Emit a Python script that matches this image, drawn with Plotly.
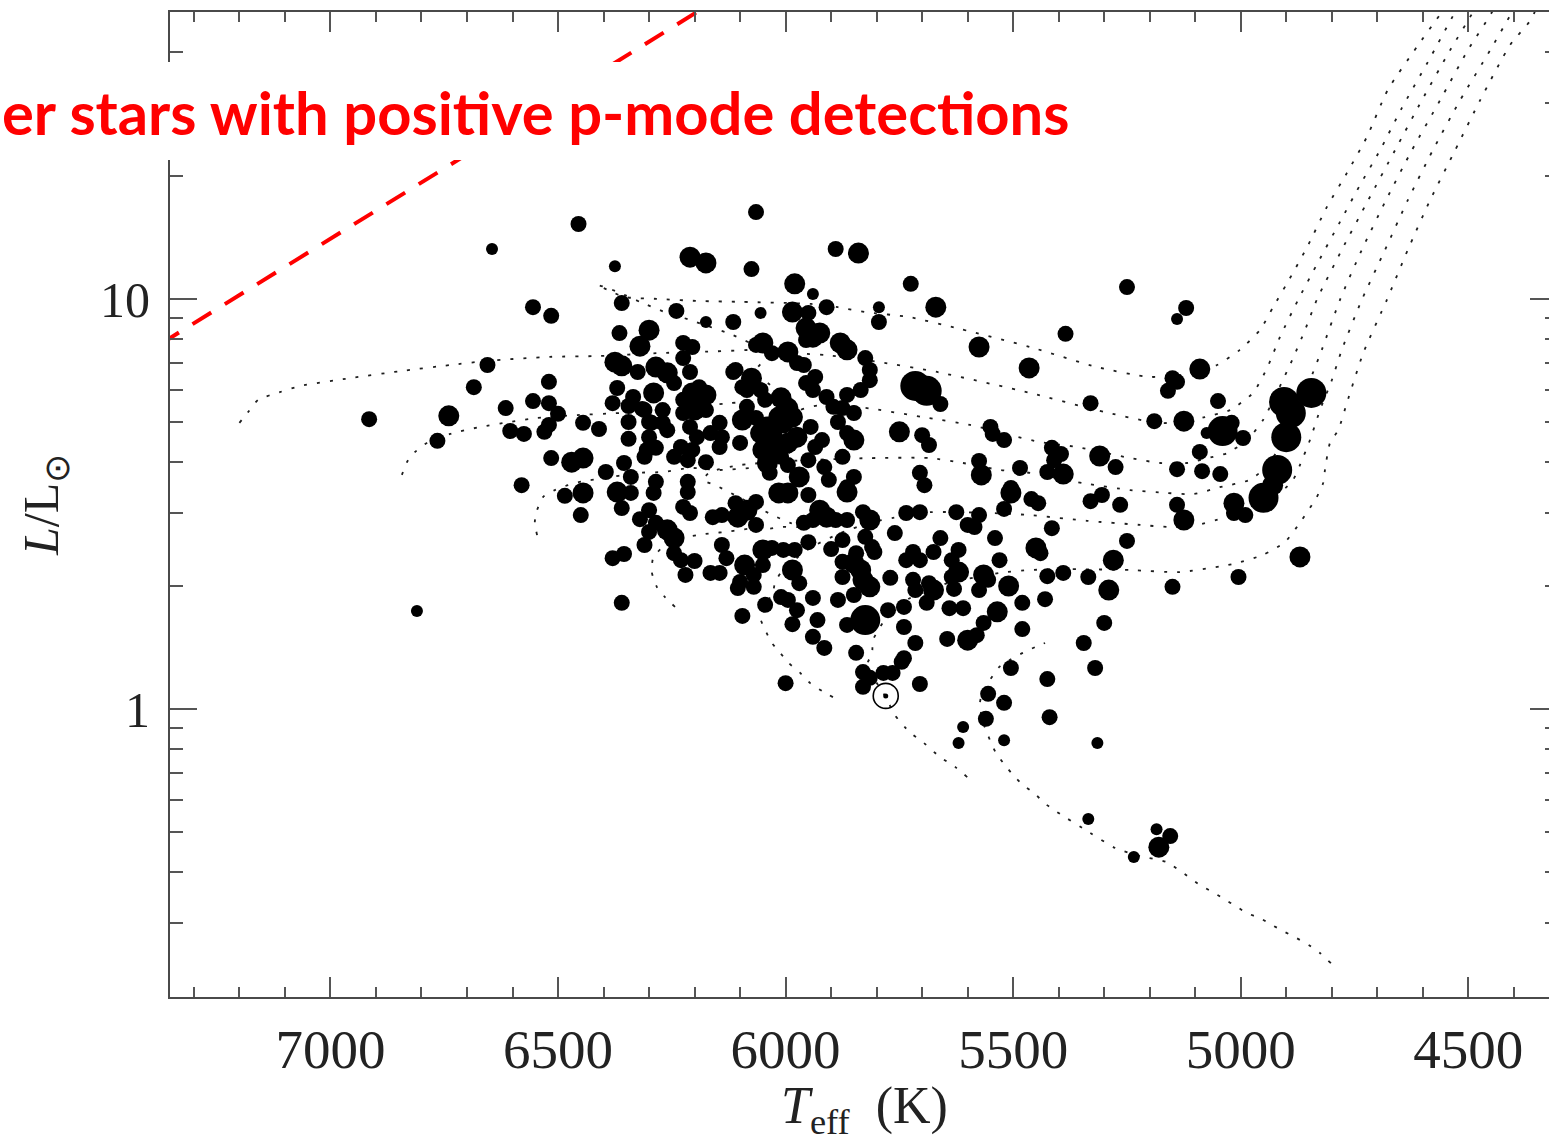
import plotly.graph_objects as go

# ------------------------------------------------------------------
# Data
# ------------------------------------------------------------------
# Stars with detected solar-like oscillations: Teff [K], log10(L/Lsun), size class (1..4)
star_teff = [
    6455, 6645, 6065, 6375, 6210, 6175, 6075, 5890, 5840, 5725,
    5980, 5940, 5795, 5670, 5910, 5985, 5950, 6055, 6115, 6175,
    5795, 5250, 5120, 5140, 5955, 5385, 6555, 6515, 6360, 6240,
    6300, 6365, 6320, 6375, 6360, 6325, 6655, 6685, 6520, 6555,
    6520, 6615, 6500, 6520, 6530, 6915, 6740, 6605, 6575, 6765,
    6445, 6410, 6370, 6380, 6335, 6345, 6315, 6345, 6345, 6300,
    6300, 6310, 6515, 6470, 6445, 6355, 6395, 6340, 6580, 6485,
    6445, 6370, 6340, 6450, 6360, 6320, 6300, 6310, 6380, 6355,
    6360, 6810, 6225, 6205, 6225, 5940, 5925, 5955, 5880, 5865,
    6050, 6065, 6030, 5995, 5975, 5960, 5825, 5815, 5815, 5835,
    5865, 5935, 5955, 5940, 5910, 5895, 5875, 5850, 5885, 5715,
    5690, 5660, 5750, 5700, 5685, 5850, 5875, 5915, 5905, 5850,
    5865, 5935, 5945, 5970, 5950, 5705, 5695, 6110, 6075, 6085,
    6055, 6045, 6010, 5995, 6015, 6040, 6055, 6030, 6005, 5985,
    5975, 5995, 6030, 6050, 6040, 6010, 6095, 6100, 5995, 6035,
    6285, 6260, 6245, 6210, 6190, 6175, 6205, 6210, 6225, 6200,
    6225, 6175, 6270, 6290, 6310, 6295, 6270, 6260, 6210, 6195,
    6205, 6230, 6245, 6215, 6175, 6165, 6145, 6140, 6145, 6305,
    6285, 6115, 6095, 6085, 6065, 5920, 5865, 6285, 6215, 5575,
    5465, 5090, 5150, 5140, 5160, 5330, 5190, 5125, 5050, 5040,
    5075, 5020, 4995, 5550, 5545, 5520, 5415, 5395, 5410, 5310,
    5275, 5575, 5570, 5485, 5425, 5390, 5140, 5090, 5085, 5045,
    5505, 4905, 4890, 4845, 4900, 4920, 6290, 6300, 6285, 6260,
    6245, 6215, 6225, 6210, 6245, 6230, 6200, 6220, 6160, 6140,
    6110, 6105, 6085, 6065, 6065, 6015, 5995, 5950, 5865, 5830,
    5815, 5925, 5910, 5940, 5960, 5890, 5865, 5875, 5735, 5705,
    5760, 5660, 5825, 5810, 5845, 5950, 5900, 6140, 6130, 6050,
    6030, 6005, 5980, 6050, 6090, 6165, 6145, 6070, 5985, 6100,
    6105, 6070, 5970, 5875, 5850, 5835, 5830, 5815, 5875, 5850,
    5805, 5770, 5720, 5735, 5705, 5675, 5720, 5715, 5685, 5675,
    5690, 5740, 5775, 6010, 5995, 6045, 5975, 5940, 5885, 6095,
    5985, 5930, 5825, 5865, 5740, 5940, 5915, 5845, 5740, 5715,
    5830, 5815, 5830, 5785, 5765, 5745, 5705, 6000, 5505, 5425,
    5320, 5555, 5520, 5560, 5610, 5620, 5520, 5420, 5315, 5335,
    5235, 5185, 5155, 5180, 5505, 5460, 5445, 5520, 5330, 5305,
    5265, 5140, 5125, 5015, 5625, 5575, 5600, 5585, 5415, 5250,
    5540, 5620, 5450, 5440, 5635, 5530, 5280, 5620, 5635, 5565,
    5555, 5425, 5390, 5335, 5575, 5630, 5510, 5290, 5150, 5640,
    5610, 5535, 5480, 5430, 5565, 5480, 5300, 5645, 5600, 5580,
    5345, 5015, 4990, 4950, 4930, 4870, 5005,
]
star_log_lum = [
    1.183, 1.122, 1.212, 1.080, 1.102, 1.088, 1.073, 1.122, 1.112, 1.037,
    1.037, 1.012, 0.980, 0.980, 0.980, 0.968, 0.966, 0.966, 0.944, 0.944,
    0.944, 1.029, 0.978, 0.951, 0.929, 0.915, 0.980, 0.959, 0.990, 0.971,
    0.924, 0.917, 0.885, 0.846, 0.837, 0.822, 0.839, 0.785, 0.798, 0.751,
    0.746, 0.734, 0.720, 0.693, 0.676, 0.707, 0.715, 0.678, 0.671, 0.654,
    0.698, 0.683, 0.783, 0.746, 0.761, 0.739, 0.732, 0.700, 0.659, 0.700,
    0.663, 0.615, 0.612, 0.602, 0.612, 0.600, 0.578, 0.566, 0.546, 0.520,
    0.527, 0.529, 0.527, 0.473, 0.490, 0.463, 0.432, 0.400, 0.368, 0.378,
    0.259, 0.239, 0.893, 0.883, 0.856, 0.907, 0.917, 0.900, 0.893, 0.876,
    0.893, 0.888, 0.868, 0.871, 0.844, 0.839, 0.856, 0.827, 0.802, 0.778,
    0.766, 0.810, 0.795, 0.778, 0.761, 0.737, 0.734, 0.722, 0.700, 0.788,
    0.776, 0.744, 0.676, 0.668, 0.644, 0.656, 0.615, 0.590, 0.559, 0.566,
    0.541, 0.639, 0.688, 0.566, 0.607, 0.576, 0.546, 0.827, 0.807, 0.778,
    0.778, 0.754, 0.759, 0.734, 0.712, 0.688, 0.673, 0.673, 0.698, 0.712,
    0.663, 0.649, 0.639, 0.632, 0.600, 0.615, 0.705, 0.649, 0.595, 0.576,
    0.834, 0.820, 0.795, 0.822, 0.785, 0.766, 0.771, 0.746, 0.754, 0.729,
    0.722, 0.729, 0.729, 0.771, 0.729, 0.698, 0.698, 0.680, 0.688, 0.663,
    0.632, 0.639, 0.615, 0.607, 0.602, 0.673, 0.698, 0.663, 0.639, 0.632,
    0.637, 0.822, 0.785, 0.737, 0.710, 0.656, 0.673, 0.554, 0.554, 0.883,
    0.832, 0.829, 0.807, 0.798, 0.776, 0.746, 0.702, 0.702, 0.751, 0.678,
    0.673, 0.698, 0.661, 0.688, 0.671, 0.656, 0.637, 0.622, 0.607, 0.617,
    0.590, 0.605, 0.571, 0.588, 0.578, 0.573, 0.585, 0.627, 0.580, 0.573,
    0.539, 0.749, 0.722, 0.771, 0.663, 0.583, 0.527, 0.485, 0.454, 0.437,
    0.417, 0.529, 0.493, 0.478, 0.380, 0.363, 0.361, 0.327, 0.468, 0.473,
    0.502, 0.468, 0.485, 0.505, 0.449, 0.527, 0.527, 0.522, 0.529, 0.480,
    0.461, 0.485, 0.468, 0.461, 0.454, 0.461, 0.461, 0.412, 0.478, 0.480,
    0.429, 0.417, 0.420, 0.395, 0.380, 0.407, 0.390, 0.400, 0.368, 0.388,
    0.393, 0.388, 0.388, 0.351, 0.351, 0.332, 0.332, 0.327, 0.339, 0.310,
    0.295, 0.298, 0.307, 0.359, 0.356, 0.339, 0.315, 0.298, 0.322, 0.278,
    0.383, 0.320, 0.383, 0.363, 0.363, 0.383, 0.315, 0.290, 0.307, 0.290,
    0.259, 0.249, 0.241, 0.273, 0.266, 0.254, 0.241, 0.271, 0.266, 0.227,
    0.207, 0.217, 0.217, 0.205, 0.200, 0.176, 0.149, 0.137, 0.124, 0.161,
    0.090, 0.076, 0.054, 0.088, 0.088, 0.115, 0.061, 0.063, 0.100, 0.073,
    0.100, 0.037, 0.015, -0.024, -0.044, -0.083, -0.076, -0.020, -0.083, -0.268,
    -0.361, -0.293, -0.310, -0.337, 0.527, 0.512, 0.502, 0.488, 0.507, 0.522,
    0.498, 0.498, 0.461, 0.502, 0.480, 0.473, 0.449, 0.444, 0.441, 0.410,
    0.417, 0.388, 0.393, 0.380, 0.363, 0.363, 0.363, 0.334, 0.322, 0.327,
    0.315, 0.324, 0.332, 0.322, 0.290, 0.293, 0.300, 0.290, 0.298, 0.246,
    0.246, 0.237, 0.259, 0.268, 0.210, 0.195, 0.210, 0.171, 0.168, 0.180,
    0.161, 0.478, 0.473, 0.515, 0.546, 0.371, 0.322,
]
star_size_class = [
    2, 1, 2, 1, 3, 3, 2, 2, 3, 2,
    3, 1, 1, 3, 2, 3, 2, 1, 2, 1,
    2, 2, 2, 1, 3, 2, 2, 2, 2, 2,
    3, 2, 3, 3, 3, 2, 2, 2, 2, 2,
    2, 2, 2, 2, 2, 2, 3, 2, 2, 2,
    2, 2, 2, 2, 2, 2, 2, 2, 2, 2,
    2, 2, 2, 3, 3, 2, 2, 2, 2, 2,
    3, 3, 2, 2, 2, 2, 2, 2, 2, 2,
    2, 1, 2, 2, 2, 3, 3, 2, 3, 3,
    3, 2, 2, 3, 2, 2, 2, 2, 2, 2,
    2, 2, 2, 2, 2, 2, 2, 2, 2, 4,
    4, 2, 3, 2, 2, 3, 2, 2, 2, 2,
    2, 2, 2, 3, 2, 2, 2, 2, 3, 2,
    2, 2, 3, 3, 3, 3, 3, 3, 3, 3,
    3, 3, 3, 3, 3, 2, 3, 2, 2, 2,
    3, 3, 2, 2, 2, 3, 3, 2, 2, 3,
    2, 2, 2, 3, 2, 2, 2, 2, 2, 2,
    2, 2, 2, 2, 2, 2, 2, 2, 2, 2,
    2, 2, 2, 2, 2, 2, 2, 2, 2, 3,
    3, 3, 2, 2, 2, 2, 2, 3, 2, 4,
    1, 2, 2, 2, 2, 2, 2, 2, 2, 3,
    2, 2, 3, 2, 2, 3, 2, 2, 2, 2,
    2, 4, 4, 4, 4, 4, 2, 2, 2, 3,
    3, 2, 2, 2, 2, 2, 2, 2, 2, 2,
    2, 3, 3, 2, 2, 3, 3, 2, 3, 2,
    3, 3, 3, 2, 2, 2, 2, 2, 2, 2,
    2, 2, 2, 2, 2, 2, 2, 2, 2, 3,
    2, 2, 2, 2, 3, 2, 2, 2, 3, 2,
    2, 2, 2, 2, 3, 3, 3, 3, 2, 2,
    2, 2, 2, 2, 2, 2, 2, 2, 2, 3,
    2, 2, 2, 2, 2, 2, 2, 2, 2, 2,
    2, 2, 4, 2, 2, 2, 2, 2, 2, 2,
    2, 2, 2, 2, 2, 2, 2, 2, 2, 2,
    2, 2, 2, 2, 1, 1, 1, 2, 1, 1,
    1, 1, 2, 3, 3, 2, 2, 2, 2, 2,
    2, 2, 3, 3, 2, 2, 2, 2, 2, 2,
    2, 2, 3, 2, 2, 2, 3, 3, 2, 3,
    2, 2, 2, 2, 2, 2, 3, 3, 2, 2,
    2, 3, 2, 2, 2, 2, 2, 2, 3, 2,
    2, 2, 2, 4, 3, 3, 2,
]

# The Sun
sun_teff = [5780]
sun_log_lum = [0.032]

# Dotted evolutionary tracks (Teff [K], log10 L/Lsun)
track_a_teff = [7200, 7181, 7159, 7111, 7066, 6957, 6847, 6737, 6656, 6518, 6408, 6283, 6188, 6078, 6045,
                6078, 6122, 6166, 6210, 6265, 6320, 6364, 6397, 6414, 6386, 6355, 6276, 6188, 6096, 5944,
                5885, 5824, 5729, 5617, 5463, 5316, 5199, 5112, 5052, 5002, 4958, 4929, 4898, 4854, 4811,
                4767, 4723, 4677, 4613, 4558, 4529]
track_a_log_lum = [0.698, 0.724, 0.754, 0.773, 0.788, 0.807, 0.824, 0.839, 0.849, 0.859, 0.861, 0.868, 0.871,
                   0.876, 0.880, 0.893, 0.915, 0.932, 0.949, 0.968, 0.993, 1.015, 1.029, 1.034, 1.020, 1.005,
                   1.000, 0.995, 0.993, 0.988, 0.980, 0.968, 0.956, 0.927, 0.883, 0.834, 0.810, 0.817, 0.839,
                   0.876, 0.924, 0.980, 1.039, 1.127, 1.224, 1.307, 1.395, 1.510, 1.615, 1.700, 1.741]
track_b_teff = [6843, 6832, 6814, 6788, 6737, 6671, 6606, 6546, 6458, 6364, 6232, 6122, 6012, 6034, 6067,
                6045, 5968, 5909, 5793, 5667, 5463, 5316, 5184, 5123, 5079, 5024, 4973, 4942, 4914, 4874,
                4830, 4782, 4738, 4694, 4646, 4589, 4529, 4507]
track_b_log_lum = [0.571, 0.602, 0.627, 0.649, 0.671, 0.688, 0.700, 0.710, 0.717, 0.722, 0.734, 0.746, 0.759,
                   0.790, 0.822, 0.851, 0.866, 0.863, 0.846, 0.822, 0.771, 0.729, 0.698, 0.700, 0.712, 0.729,
                   0.771, 0.832, 0.907, 0.998, 1.090, 1.188, 1.278, 1.363, 1.466, 1.578, 1.700, 1.741]
track_c_teff = [6546, 6551, 6546, 6533, 6507, 6478, 6445, 6408, 6327, 6269, 6210, 6144, 6078, 6001, 5990,
                6001, 5968, 5925, 5874, 5808, 5687, 5595, 5507, 5441, 5360, 5243, 5177, 5118, 5061, 5030,
                4986, 4951, 4918, 4887, 4859, 4833, 4778, 4720, 4661, 4602, 4540, 4490, 4474]
track_c_log_lum = [0.424, 0.456, 0.485, 0.517, 0.534, 0.546, 0.556, 0.561, 0.576, 0.578, 0.588, 0.583, 0.588,
                   0.595, 0.644, 0.693, 0.729, 0.741, 0.741, 0.732, 0.710, 0.693, 0.668, 0.651, 0.639, 0.612,
                   0.600, 0.600, 0.615, 0.624, 0.656, 0.705, 0.778, 0.851, 0.924, 0.998, 1.120, 1.241, 1.363,
                   1.485, 1.607, 1.700, 1.741]
track_d_teff = [6243, 6265, 6283, 6294, 6291, 6265, 6228, 6195, 6162, 6129, 6100, 6067, 6041, 6008, 5968,
                5990, 6019, 6050, 6100, 6151, 6181, 6166, 6100, 5990, 5880, 5815, 5683, 5610, 5529, 5463,
                5347, 5243, 5162, 5105, 5046, 4980, 4940, 4907, 4877, 4848, 4822, 4782, 4734, 4681, 4624,
                4562, 4501, 4448, 4431]
track_d_log_lum = [0.249, 0.273, 0.298, 0.334, 0.368, 0.400, 0.417, 0.424, 0.429, 0.432, 0.437, 0.441, 0.439,
                   0.444, 0.444, 0.454, 0.468, 0.485, 0.515, 0.544, 0.559, 0.578, 0.595, 0.605, 0.610, 0.612,
                   0.612, 0.600, 0.583, 0.576, 0.551, 0.534, 0.527, 0.524, 0.541, 0.559, 0.595, 0.656, 0.729,
                   0.802, 0.876, 0.998, 1.120, 1.241, 1.363, 1.485, 1.607, 1.700, 1.741]
track_e_teff = [5896, 5920, 5946, 5968, 5993, 6012, 6030, 6045, 6056, 6045, 6028, 6023, 6006, 5986, 5946,
                5880, 5815, 5764, 5683, 5551, 5463, 5338, 5221, 5156, 5096, 5039, 5002, 4951, 4907, 4885,
                4870, 4848, 4826, 4800, 4778, 4734, 4683, 4633, 4578, 4518, 4452, 4404, 4386]
track_e_log_lum = [0.029, 0.044, 0.063, 0.088, 0.112, 0.137, 0.161, 0.193, 0.224, 0.254, 0.283, 0.310, 0.339,
                   0.359, 0.393, 0.429, 0.454, 0.466, 0.480, 0.478, 0.473, 0.459, 0.449, 0.444, 0.449, 0.466,
                   0.480, 0.510, 0.534, 0.559, 0.595, 0.656, 0.729, 0.802, 0.876, 0.998, 1.120, 1.241, 1.363,
                   1.485, 1.607, 1.700, 1.741]
track_f_teff = [5601, 5628, 5661, 5696, 5720, 5738, 5760, 5780, 5804, 5821, 5810, 5808, 5782, 5731, 5683,
                5645, 5588, 5529, 5463, 5375, 5243, 5134, 5039, 5008, 4951, 4903, 4866, 4833, 4819, 4815,
                4804, 4786, 4767, 4731, 4679, 4633, 4584, 4529, 4474, 4408, 4360, 4343]
track_f_log_lum = [-0.166, -0.141, -0.117, -0.083, -0.063, -0.044, -0.015, 0.029, 0.071, 0.107, 0.137, 0.168,
                   0.217, 0.268, 0.290, 0.307, 0.320, 0.332, 0.339, 0.341, 0.339, 0.334, 0.349, 0.356, 0.376,
                   0.407, 0.461, 0.517, 0.551, 0.583, 0.649, 0.680, 0.746, 0.868, 0.998, 1.120, 1.241, 1.363,
                   1.485, 1.620, 1.685, 1.741]
track_g_teff = [4802, 4826, 4850, 4877, 4903, 4931, 4958, 4986, 5008, 5037, 5063, 5090, 5114, 5164, 5221,
                5276, 5331, 5404, 5432, 5454, 5479, 5500, 5518, 5538, 5551, 5560, 5568, 5573, 5568, 5551,
                5531, 5507, 5479, 5452, 5430]
track_g_log_lum = [-0.620, -0.595, -0.576, -0.559, -0.544, -0.527, -0.510, -0.498, -0.483, -0.463, -0.446,
                   -0.429, -0.410, -0.373, -0.359, -0.339, -0.302, -0.251, -0.229, -0.205, -0.185, -0.161,
                   -0.137, -0.107, -0.076, -0.051, -0.027, 0.015, 0.039, 0.071, 0.102, 0.120, 0.137, 0.151,
                   0.161]

# Red dashed boundary line
red_line_teff = [7374, 6116]
red_line_log_lum = [0.890, 1.754]

# Axis ticks
x_tick_vals = [7000, 6500, 6000, 5500, 5000, 4500]
y_tick_vals = [1, 10]
y_tick_text = ["1", "10"]
y_minor_vals = [0.3, 0.4, 0.5, 0.6, 0.7, 0.8, 0.9, 2, 3, 4, 5, 6, 7, 8, 9, 20, 30, 40]

banner_text = "er stars with positive p-mode detections"
x_title = "<i>T</i><sub>eff</sub>&nbsp;&nbsp;(K)"
y_title = "<i>L</i>/L<sub>⊙</sub>"

# ------------------------------------------------------------------
# Styling
# ------------------------------------------------------------------
SIZE_PX = {1: 12, 2: 16, 3: 21, 4: 30}
SERIF = "Liberation Serif, Times New Roman, serif"
X_RANGE = [7352.5, 4322.8]
Y_RANGE = [-0.7024, 1.7]


def lum(log_values):
    return [10 ** v for v in log_values]


fig = go.Figure()

tracks = [
    (track_a_teff, track_a_log_lum), (track_b_teff, track_b_log_lum),
    (track_c_teff, track_c_log_lum), (track_d_teff, track_d_log_lum),
    (track_e_teff, track_e_log_lum), (track_f_teff, track_f_log_lum),
    (track_g_teff, track_g_log_lum),
]
for t, l in tracks:
    fig.add_trace(go.Scatter(
        x=t, y=lum(l), mode="lines",
        line=dict(color="#1e1e1e", width=1.8, dash="3px,10px", shape="spline", smoothing=0.6),
        hoverinfo="skip", showlegend=False))

fig.add_trace(go.Scatter(
    x=red_line_teff, y=lum(red_line_log_lum), mode="lines",
    line=dict(color="#ff0000", width=4, dash="22px,16px"),
    hoverinfo="skip", showlegend=False))

fig.add_trace(go.Scatter(
    x=star_teff, y=lum(star_log_lum), mode="markers",
    marker=dict(color="black", opacity=1, size=[SIZE_PX[c] for c in star_size_class], line=dict(width=0)),
    showlegend=False))

fig.add_trace(go.Scatter(
    x=sun_teff, y=lum(sun_log_lum), mode="markers",
    marker=dict(symbol="circle-open", color="black", opacity=1, size=25, line=dict(width=1.6)),
    showlegend=False))
fig.add_trace(go.Scatter(
    x=sun_teff, y=lum(sun_log_lum), mode="markers",
    marker=dict(symbol="circle", color="black", opacity=1, size=5),
    showlegend=False))

# helper (empty) trace so the right-hand tick axis is drawn
fig.add_trace(go.Scatter(x=[None], y=[None], yaxis="y2", mode="markers",
                         hoverinfo="skip", showlegend=False))

axis_line = "#4a4a4a"
tick_col = "#555555"

fig.update_layout(
    width=1549, height=1142,
    margin=dict(l=170, r=0, t=12, b=145),
    paper_bgcolor="white", plot_bgcolor="white",
    showlegend=False,
    xaxis=dict(
        range=X_RANGE, showgrid=False, zeroline=False,
        showline=True, linecolor=axis_line, linewidth=2, mirror="ticks",
        ticks="inside", ticklen=20, tickwidth=1.5, tickcolor=tick_col,
        tickmode="array", tickvals=x_tick_vals,
        tickfont=dict(family=SERIF, size=55, color="#222222"),
        ticklabelstandoff=3,
        minor=dict(dtick=100, tick0=0, ticks="inside", ticklen=10, tickwidth=1.5, tickcolor=tick_col),
    ),
    yaxis=dict(
        type="log", range=Y_RANGE, showgrid=False, zeroline=False,
        showline=True, linecolor=axis_line, linewidth=2, mirror=False,
        ticks="inside", ticklen=27, tickwidth=1.5, tickcolor=tick_col,
        tickmode="array", tickvals=y_tick_vals, ticktext=y_tick_text,
        tickfont=dict(family=SERIF, size=50, color="#222222"),
        ticklabelstandoff=8,
        minor=dict(tickmode="array", tickvals=y_minor_vals, ticks="inside",
                   ticklen=13, tickwidth=1.5, tickcolor=tick_col),
    ),
    yaxis2=dict(
        type="log", range=Y_RANGE, overlaying="y", side="right", anchor="x",
        showgrid=False, zeroline=False, showline=False,
        ticks="inside", ticklen=19, tickwidth=1.5, tickcolor=tick_col,
        tickmode="array", tickvals=y_tick_vals, showticklabels=False,
        minor=dict(tickmode="array", tickvals=y_minor_vals, ticks="inside",
                   ticklen=4, tickwidth=1.5, tickcolor=tick_col),
    ),
)

# white box behind the red banner text
fig.add_shape(type="rect", xref="paper", yref="paper",
              x0=-0.13, x1=0.66, y0=0.8497, y1=0.9492,
              fillcolor="white", line=dict(width=0), layer="above")
fig.add_annotation(text="<b>" + banner_text + "</b>", xref="paper", yref="paper",
                   x=-0.1226, y=0.8985, xanchor="left", yanchor="middle", borderpad=0,
                   showarrow=False, font=dict(family="Lato, Open Sans, sans-serif", size=59.7, color="#ff0000"))

# axis titles
fig.add_annotation(text=x_title, xref="paper", yref="paper", x=0.5035, y=-0.114,
                   xanchor="center", yanchor="middle", showarrow=False,
                   font=dict(family=SERIF, size=52, color="#222222"))
fig.add_annotation(text=y_title, xref="paper", yref="paper", x=-0.0906, y=0.4995,
                   xanchor="center", yanchor="middle", textangle=-90, showarrow=False,
                   font=dict(family=SERIF, size=50, color="#222222"))

fig.write_html("out.html", config={"displayModeBar": False})
